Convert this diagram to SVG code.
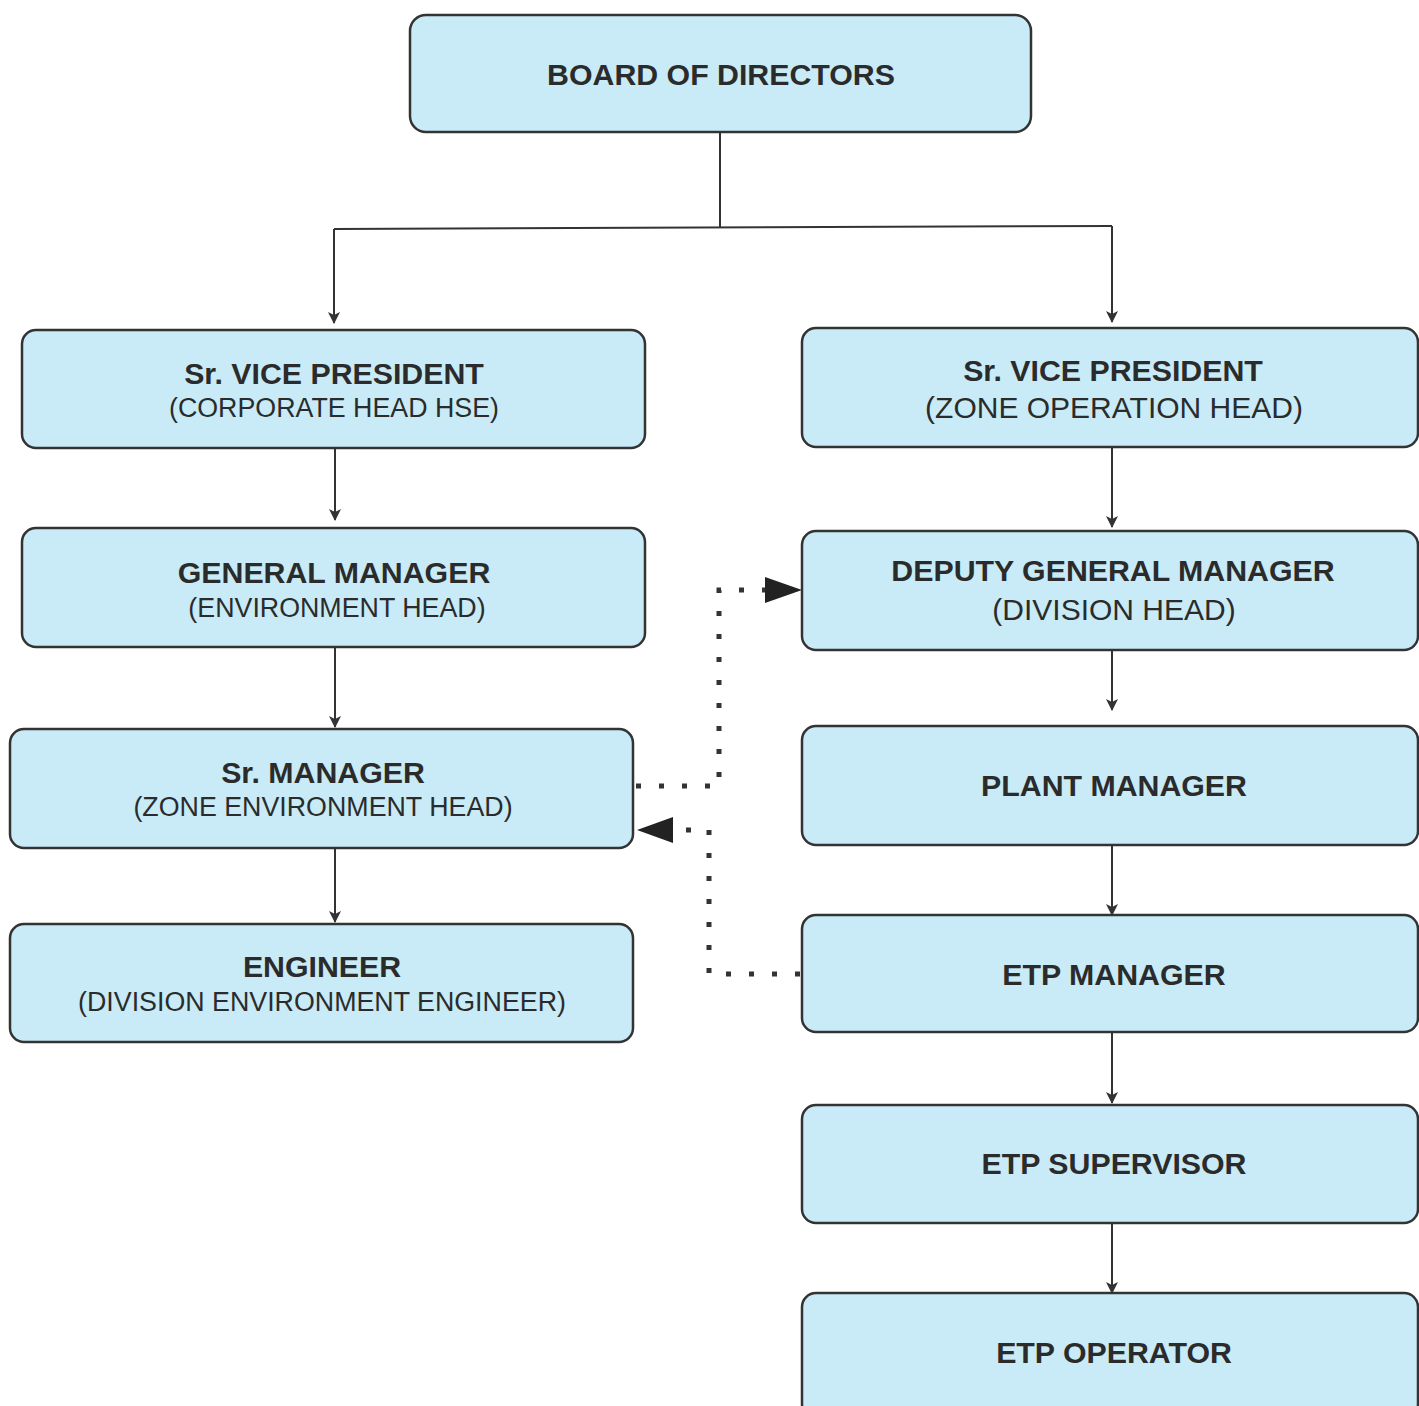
<svg xmlns="http://www.w3.org/2000/svg" width="1419" height="1406" viewBox="0 0 1419 1406">
<defs>
<style>
.box{fill:#c8ebf7;stroke:#333;stroke-width:2.5}
.t{font-family:"Liberation Sans",Arial,sans-serif;font-weight:bold;font-size:30.3px;fill:#2b2b2b;text-anchor:middle}
.s{font-family:"Liberation Sans",Arial,sans-serif;font-size:26.8px;fill:#2b2b2b;text-anchor:middle}
.sr{font-family:"Liberation Sans",Arial,sans-serif;font-size:30px;fill:#2b2b2b;text-anchor:middle}
.ln{fill:none;stroke:#333;stroke-width:2}
.dot{fill:none;stroke:#333;stroke-width:5;stroke-dasharray:5 18}
</style>
<marker id="ah" markerWidth="12" markerHeight="12" refX="11" refY="6" orient="auto" markerUnits="userSpaceOnUse" viewBox="0 0 12 12">
<path d="M0,0 L12,6 L0,12 L3,6 z" fill="#333"/>
</marker>
</defs>
<rect width="1419" height="1406" fill="#fff"/>
<g id="connectors">
<polyline class="ln" points="720,132 720,227"/>
<polyline class="ln" points="334,229 1112,226"/>
<line class="ln" x1="334" y1="229" x2="334" y2="323" marker-end="url(#ah)"/>
<line class="ln" x1="1112" y1="226" x2="1112" y2="322" marker-end="url(#ah)"/>
<line class="ln" x1="335" y1="448" x2="335" y2="520" marker-end="url(#ah)"/>
<line class="ln" x1="335" y1="647" x2="335" y2="727" marker-end="url(#ah)"/>
<line class="ln" x1="335" y1="848" x2="335" y2="922" marker-end="url(#ah)"/>
<line class="ln" x1="1112" y1="447" x2="1112" y2="527" marker-end="url(#ah)"/>
<line class="ln" x1="1112" y1="650" x2="1112" y2="710" marker-end="url(#ah)"/>
<line class="ln" x1="1112" y1="845" x2="1112" y2="915" marker-end="url(#ah)"/>
<line class="ln" x1="1112" y1="1032" x2="1112" y2="1103" marker-end="url(#ah)"/>
<line class="ln" x1="1112" y1="1223" x2="1112" y2="1293" marker-end="url(#ah)"/>
<polyline class="dot" points="636,786 719,786 719,590 765,590"/>
<path d="M765,577 L802,590 L765,603 z" fill="#222"/>
<polyline class="dot" points="800,974 709,974 709,830 673,830"/>
<path d="M673,817 L637,830 L673,843 z" fill="#222"/>
</g>
<g id="board"><rect class="box" x="410" y="15" width="621" height="117" rx="16"/><text class="t" x="721" y="85">BOARD OF DIRECTORS</text></g>
<g id="svp-hse"><rect class="box" x="22" y="330" width="623" height="118" rx="14"/><text class="t" x="334" y="384">Sr. VICE PRESIDENT</text><text class="s" x="334" y="417">(CORPORATE HEAD HSE)</text></g>
<g id="gm"><rect class="box" x="22" y="528" width="623" height="119" rx="14"/><text class="t" x="334" y="583">GENERAL MANAGER</text><text class="s" x="337" y="617">(ENVIRONMENT HEAD)</text></g>
<g id="srmgr"><rect class="box" x="10" y="729" width="623" height="119" rx="14"/><text class="t" x="323" y="783">Sr. MANAGER</text><text class="s" x="323" y="816">(ZONE ENVIRONMENT HEAD)</text></g>
<g id="engineer"><rect class="box" x="10" y="924" width="623" height="118" rx="14"/><text class="t" x="322" y="977">ENGINEER</text><text class="s" x="322" y="1011">(DIVISION ENVIRONMENT ENGINEER)</text></g>
<g id="svp-zone"><rect class="box" x="802" y="328" width="616" height="119" rx="14"/><text class="t" x="1113" y="381">Sr. VICE PRESIDENT</text><text class="sr" x="1114" y="418">(ZONE OPERATION HEAD)</text></g>
<g id="dgm"><rect class="box" x="802" y="531" width="616" height="119" rx="14"/><text class="t" x="1113" y="581">DEPUTY GENERAL MANAGER</text><text class="sr" x="1114" y="620">(DIVISION HEAD)</text></g>
<g id="plant"><rect class="box" x="802" y="726" width="616" height="119" rx="14"/><text class="t" x="1114" y="796">PLANT MANAGER</text></g>
<g id="etpmgr"><rect class="box" x="802" y="915" width="616" height="117" rx="14"/><text class="t" x="1114" y="985">ETP MANAGER</text></g>
<g id="etpsup"><rect class="box" x="802" y="1105" width="616" height="118" rx="14"/><text class="t" x="1114" y="1174">ETP SUPERVISOR</text></g>
<g id="etpop"><rect class="box" x="802" y="1293" width="616" height="125" rx="14"/><text class="t" x="1114" y="1363">ETP OPERATOR</text></g>
</svg>
